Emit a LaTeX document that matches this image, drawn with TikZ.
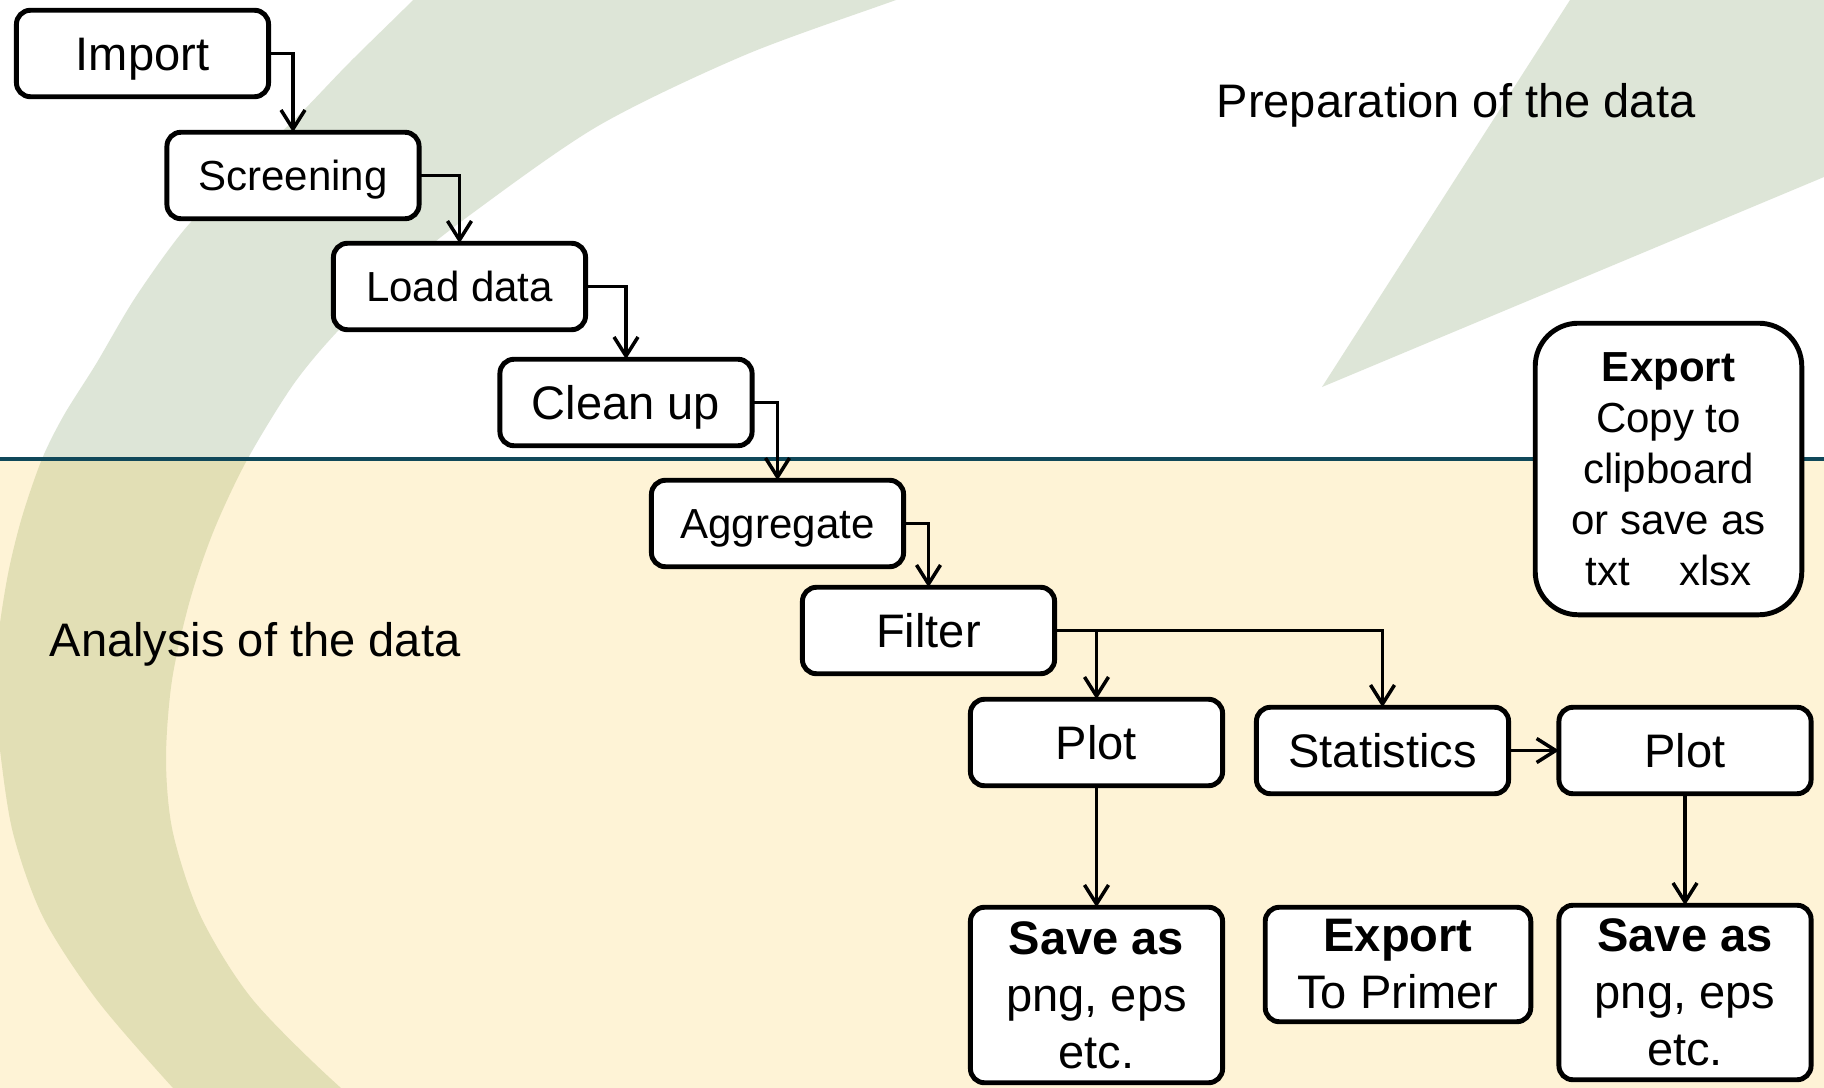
\documentclass[tikz,border=0pt]{standalone}
\usepackage{fontspec}
\setmainfont{Liberation Sans}
\usetikzlibrary{arrows.meta}
\definecolor{sageTop}{HTML}{DDE5D7}
\definecolor{sageLow}{HTML}{E2DFB5}
\definecolor{creamBack}{HTML}{FEF3D6}
\definecolor{tealRule}{HTML}{10485A}
\def\bandshape{plot[smooth] coordinates {(450,-40) (413,0) (350,62) (299,115) (240,172) (184,230) (135,298) (96,364) (64,415) (42,459) (22,517) (8,574) (-2,640) (-4,700) (0,750) (13,833) (43,917) (97,1000) (173,1088) (215,1130)}
  -- plot[smooth] coordinates {(400,1130) (341,1088) (253,1000) (201,917) (173,833) (166,760) (172,680) (190,600) (214,530) (247,460) (293,385) (336,333) (395,275) (470,215) (598,126) (745,55) (896,0) (1008,-40)} -- cycle}
\begin{document}
\begin{tikzpicture}
[x=0.01cm,y=-0.01cm,%
  boxDecorate/.style={rectangle,rounded corners=0.14cm,draw=black,line width=1.4pt,fill=white,
    inner sep=0pt,outer sep=0pt,minimum width=2.52cm,minimum height=0.864cm,align=center},
  bigFont/.style={font=\fontsize{13.38pt}{16.2pt}\selectfont},
  smallFont/.style={font=\fontsize{11.95pt}{14.5pt}\selectfont},
  lineDecorate/.style={-{Straight Barb[length=0.19cm,width=0.24cm]},line width=1pt}]
\useasboundingbox (0,0) rectangle (1824,1088);
%% background
\fill[white] (0,0) rectangle (1824,1088);
\fill[creamBack] (0,459) rectangle (1824,1088);
\begin{scope}
  \clip (0,0) rectangle (1824,459);
  \fill[sageTop] \bandshape;
\end{scope}
\begin{scope}
  \clip (0,459) rectangle (1824,1088);
  \fill[sageLow] \bandshape;
\end{scope}
\fill[sageTop] (1570,0) -- (1824,0) -- (1824,177) -- (1322,387) -- cycle;
\draw[tealRule,line width=1.3pt] (0,459) -- (1824,459);
%% titles
\node (prep) at (1456,117.5) [bigFont,anchor=base,inner sep=0pt] {Preparation of the data};
\node (anal) at (49,656) [bigFont,anchor=base west,inner sep=0pt] {Analysis of the data};
%% boxes, larger labels
\foreach \nodename/\x/\y/\label in {
  import/142.5/53.5/Import, clean/626/402.5/Clean up, filter/928.5/630.5/Filter,
  plotA/1096.5/742.5/Plot, stats/1382.5/750.5/Statistics, plotB/1685/750.5/Plot}
{
  \node (\nodename) at (\x,\y) [boxDecorate,bigFont,text height=0.337cm,text depth=0pt] {\label};
}
%% boxes, smaller labels
\foreach \nodename/\x/\y/\label in {
  screen/293/175.5/Screening, load/459.5/286.5/Load data, aggr/777.5/523.5/Aggregate}
{
  \node (\nodename) at (\x,\y) [boxDecorate,smallFont,text height=0.301cm,text depth=0pt] {\label};
}
%% boxes with several lines
\node (saveA) at (1096.5,995) [boxDecorate,bigFont,minimum height=1.754cm] {\textbf{Save as}\\png, eps\\etc.};
\node (primer) at (1398,964.5) [boxDecorate,bigFont,minimum width=2.654cm,minimum height=1.144cm] {\textbf{Export}\\To Primer};
\node (saveB) at (1685,992.5) [boxDecorate,bigFont,minimum height=1.744cm] {\textbf{Save as}\\png, eps\\etc.};
\node (clip) at (1668.5,469) [boxDecorate,smallFont,minimum width=2.664cm,minimum height=2.914cm,rounded corners=0.43cm]
  {\textbf{Export}\\Copy to\\clipboard\\or save as\\txt\hspace{0.49cm}xlsx};
%% connectors
\foreach \startnode/\endnode in {import/screen, screen/load, load/clean, clean/aggr, aggr/filter, filter/stats}
{
  \draw[lineDecorate] (\startnode.east) -| (\endnode.north);
}
\draw[lineDecorate] (filter.east -| plotA.north) -- (plotA.north);
\draw[lineDecorate] (stats.east) -- (plotB.west);
\draw[lineDecorate] (plotA.south) -- (saveA.north);
\draw[lineDecorate] (plotB.south) -- (saveB.north);
\end{tikzpicture}
\end{document}
